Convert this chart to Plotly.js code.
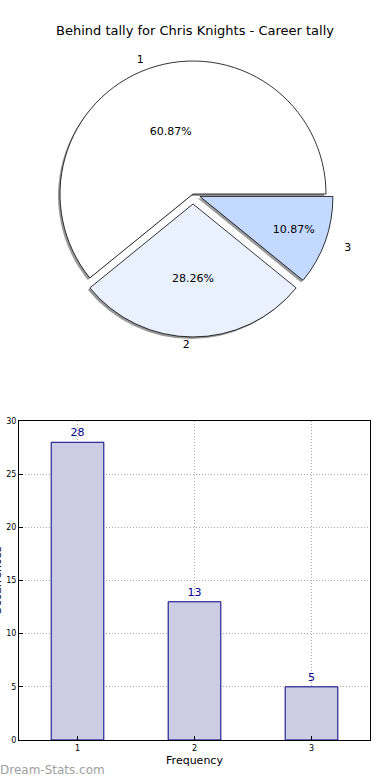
<!DOCTYPE html>
<html><head><meta charset="utf-8">
<script src="https://cdn.plot.ly/plotly-3.0.1.min.js"></script>
<style>html,body{margin:0;padding:0;background:#fff}#c{width:390px;height:780px}</style>
</head><body><div id="c"></div>
<script>
const categories = ['1', '2', '3'];
const counts = [28, 13, 5];
const pieColors = ['#ffffff', '#eaf1fe', '#c4d9ff'];
const pullAmounts = [0, 0.075, 0.055];
const labelPull = [0.03, 0.08, 0.18];
const titleText = 'Behind tally for Chris Knights - Career tally';
const xTitle = 'Frequency';
const yTitle = 'Occurrences';
const watermark = 'Dream-Stats.com';

const W = 390, H = 780;
const px = (a, b) => [a / W, b / W];
const py = (top, bottom) => [(H - bottom) / H, (H - top) / H];

// pie geometry (pixels)
const cx = 193, cy = 194, R = 133;
const maxPull = Math.max(...pullAmounts);
const half = R * (1 + maxPull);
const pieDom = {x: px(cx - half, cx + half), y: py(cy - half, cy + half)};
const shadowDom = {x: px(cx - half - 2, cx + half - 2), y: py(cy - half + 2, cy + half + 2)};
const halfL = R * (1 + Math.max(...labelPull));
const labelDom = {x: px(cx - halfL, cx + halfL), y: py(cy - halfL, cy + halfL)};

// first slice starts at 3 o'clock and runs counterclockwise (plotly ends the first ccw slice at `rotation`)
const total = counts.reduce((a, b) => a + b, 0);
const startRotation = 90 - 360 * counts[0] / total;

const common = {
  type: 'pie', values: counts, labels: categories, sort: false,
  direction: 'counterclockwise', rotation: startRotation, pull: pullAmounts,
  hoverinfo: 'skip', showlegend: false
};

const traces = [
  Object.assign({}, common, {
    domain: shadowDom, marker: {colors: ['#9a9a9a', '#9a9a9a', '#9a9a9a'], line: {width: 0}},
    textinfo: 'none'
  }),
  Object.assign({}, common, {
    domain: pieDom, marker: {colors: pieColors, line: {color: '#000', width: 0.8}},
    texttemplate: '%{percent:.2%}', textposition: 'inside', insidetextorientation: 'horizontal',
    textfont: {family: 'DejaVu Sans', size: 11, color: '#000'}
  }),
  Object.assign({}, common, {
    domain: labelDom, pull: labelPull,
    marker: {colors: ['rgba(0,0,0,0)', 'rgba(0,0,0,0)', 'rgba(0,0,0,0)'], line: {width: 0}},
    texttemplate: '%{label}', textposition: 'outside',
    textfont: {family: 'DejaVu Sans', size: 11, color: '#000'}
  }),
  {
    type: 'bar', x: categories.map(Number), y: counts, width: 0.45,
    marker: {color: '#ccccE5', line: {color: '#000080', width: 1}},
    text: counts.map(String), textposition: 'outside', cliponaxis: false,
    textfont: {family: 'DejaVu Sans', size: 11, color: '#00008B'},
    hoverinfo: 'skip', showlegend: false
  }
];

const layout = {
  width: W, height: H, margin: {l: 0, r: 0, t: 0, b: 0},
  paper_bgcolor: '#fff', plot_bgcolor: '#fff',
  font: {family: 'DejaVu Sans', color: '#000'},
  title: {text: titleText, font: {family: 'DejaVu Sans', size: 13, color: '#000'}, x: 0.5, xanchor: 'center', y: 1 - 30 / H, yanchor: 'middle'},
  xaxis: {
    domain: px(19, 370), range: [0.5, 3.5], tickvals: categories.map(Number), ticktext: categories,
    tickfont: {size: 8}, ticks: 'inside', ticklen: 4, tickcolor: '#000',
    showline: true, linecolor: '#000', linewidth: 1, mirror: true,
    showgrid: true, gridcolor: '#a8a8a8', griddash: '1px,2px', gridwidth: 1, zeroline: false,
    title: {text: xTitle, font: {size: 11}, standoff: 4}, automargin: false
  },
  yaxis: {
    domain: py(421, 740), range: [0, 30], dtick: 5,
    tickfont: {size: 8}, ticks: 'inside', ticklen: 4, tickcolor: '#000',
    showline: true, linecolor: '#000', linewidth: 1, mirror: true,
    showgrid: true, gridcolor: '#a8a8a8', griddash: '1px,2px', gridwidth: 1, zeroline: false,
    automargin: false
  },
  bargap: 0,
  annotations: [{
    text: yTitle, xref: 'paper', yref: 'y domain', x: 0, y: 0.5, xanchor: 'right', yanchor: 'middle',
    textangle: -90, showarrow: false, font: {family: 'DejaVu Sans', size: 11, color: '#000'}, xshift: 6
  }, {
    text: watermark, xref: 'paper', yref: 'paper', x: 0, y: 0, xanchor: 'left', yanchor: 'bottom',
    showarrow: false, font: {family: 'DejaVu Sans', size: 12, color: '#a0a0a0'}, xshift: -2, yshift: 1
  }]
};

Plotly.newPlot('c', traces, layout, {displayModeBar: false, staticPlot: true});
</script></body></html>
